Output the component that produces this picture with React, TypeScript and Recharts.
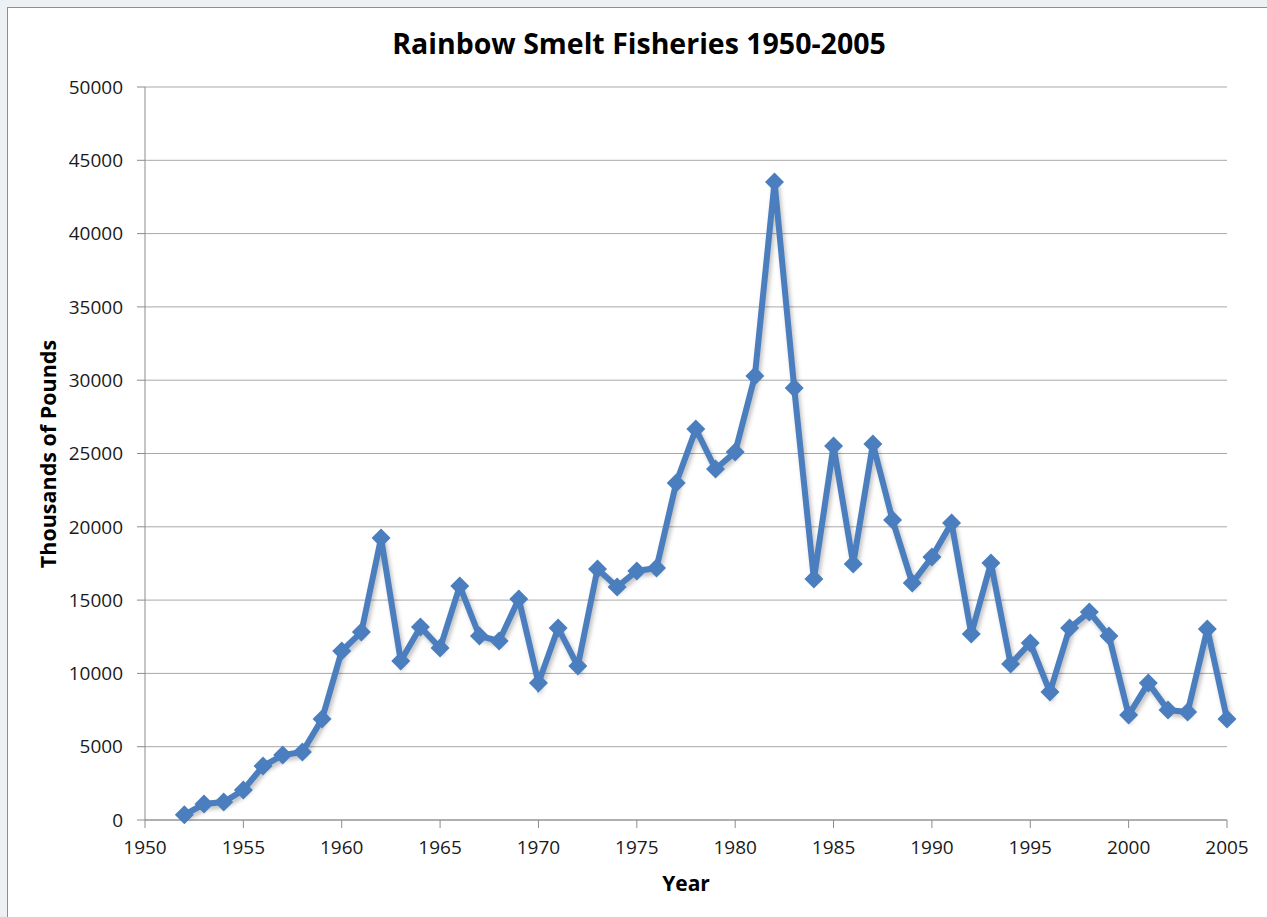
import React from "react";
import { LineChart, Line, XAxis, YAxis, CartesianGrid } from "recharts";

const years = [
  1952, 1953, 1954, 1955, 1956, 1957, 1958, 1959, 1960, 1961, 1962, 1963, 1964,
  1965, 1966, 1967, 1968, 1969, 1970, 1971, 1972, 1973, 1974, 1975, 1976, 1977,
  1978, 1979, 1980, 1981, 1982, 1983, 1984, 1985, 1986, 1987, 1988, 1989, 1990,
  1991, 1992, 1993, 1994, 1995, 1996, 1997, 1998, 1999, 2000, 2001, 2002, 2003,
  2004, 2005,
];

const pounds = [
  350, 1090, 1230, 2050, 3680, 4430, 4640, 6890, 11530, 12820, 19240, 10850,
  13170, 11730, 15960, 12550, 12210, 15080, 9350, 13100, 10500, 17120, 15900,
  16990, 17190, 22990, 26670, 23940, 25100, 30290, 43520, 29470, 16440, 25510,
  17460, 25650, 20460, 16170, 17940, 20260, 12690, 17530, 10640, 12070, 8730,
  13100, 14190, 12550, 7160, 9350, 7500, 7370, 13030, 6890,
];

const xTicks = [1950, 1955, 1960, 1965, 1970, 1975, 1980, 1985, 1990, 1995, 2000, 2005];
const yTicks = [0, 5000, 10000, 15000, 20000, 25000, 30000, 35000, 40000, 45000, 50000];

const data = years.map((year, i) => ({ year, pounds: pounds[i] }));

const BLUE = "#4a7ebf";
const FONT = "'Open Sans', sans-serif";

const Diamond = (props: any) => {
  const { cx, cy, index } = props;
  if (cx == null || cy == null) return null;
  const r = 9.5;
  return (
    <path
      key={`d-${index}`}
      d={`M${cx},${cy - r} L${cx + r},${cy} L${cx},${cy + r} L${cx - r},${cy} Z`}
      fill={BLUE}
    />
  );
};

const tickStyle = { fontFamily: FONT, fontSize: 19, fill: "#1a1a1a" };

export default function App() {
  return (
    <div
      style={{
        position: "absolute",
        left: 0,
        top: 0,
        width: 1267,
        height: 917,
        overflow: "hidden",
        background: "#eef1f4",
      }}
    >
      <style>{`.smelt-line .recharts-line { filter: drop-shadow(2px 3px 2px rgba(0,0,0,0.25)); }`}</style>
      <div
        style={{
          position: "absolute",
          left: 7,
          top: 7,
          width: 1300,
          height: 950,
          background: "#fff",
          border: "1px solid #8f8f8f",
        }}
      />
      <div className="smelt-line" style={{ position: "absolute", left: 0, top: 0 }}>
        <LineChart
          width={1267}
          height={917}
          data={data}
          margin={{ top: 87, right: 40, bottom: 0, left: 0 }}
        >
          <CartesianGrid vertical={false} stroke="#a8a8a8" strokeWidth={1} />
          <XAxis
            dataKey="year"
            type="number"
            domain={[1950, 2005]}
            ticks={xTicks}
            height={97}
            stroke="#8c8c8c"
            tickSize={8}
            tickMargin={13}
            tick={tickStyle}
          />
          <YAxis
            type="number"
            domain={[0, 50000]}
            ticks={yTicks}
            width={145}
            stroke="#8c8c8c"
            tickSize={8}
            tickMargin={14}
            tick={tickStyle}
          />
          <Line
            type="linear"
            dataKey="pounds"
            stroke={BLUE}
            strokeWidth={6}
            dot={Diamond}
            activeDot={false}
            isAnimationActive={false}
          />
        </LineChart>
      </div>
      <div
        style={{
          position: "absolute",
          left: 7,
          width: 1264,
          top: 24,
          textAlign: "center",
          fontFamily: FONT,
          fontWeight: 700,
          fontSize: 28.5,
          color: "#000",
        }}
      >
        Rainbow Smelt Fisheries 1950-2005
      </div>
      <div
        style={{
          position: "absolute",
          left: 145,
          width: 1082,
          top: 869,
          textAlign: "center",
          fontFamily: FONT,
          fontWeight: 700,
          fontSize: 21,
          color: "#000",
        }}
      >
        Year
      </div>
      <div
        style={{
          position: "absolute",
          left: 47,
          top: 454,
          width: 0,
          height: 0,
        }}
      >
        <div
          style={{
            position: "absolute",
            left: 0,
            top: 0,
            transform: "translate(-50%, -50%) rotate(-90deg)",
            whiteSpace: "nowrap",
            fontFamily: FONT,
            fontWeight: 700,
            fontSize: 21.5,
            color: "#000",
          }}
        >
          Thousands of Pounds
        </div>
      </div>
    </div>
  );
}
